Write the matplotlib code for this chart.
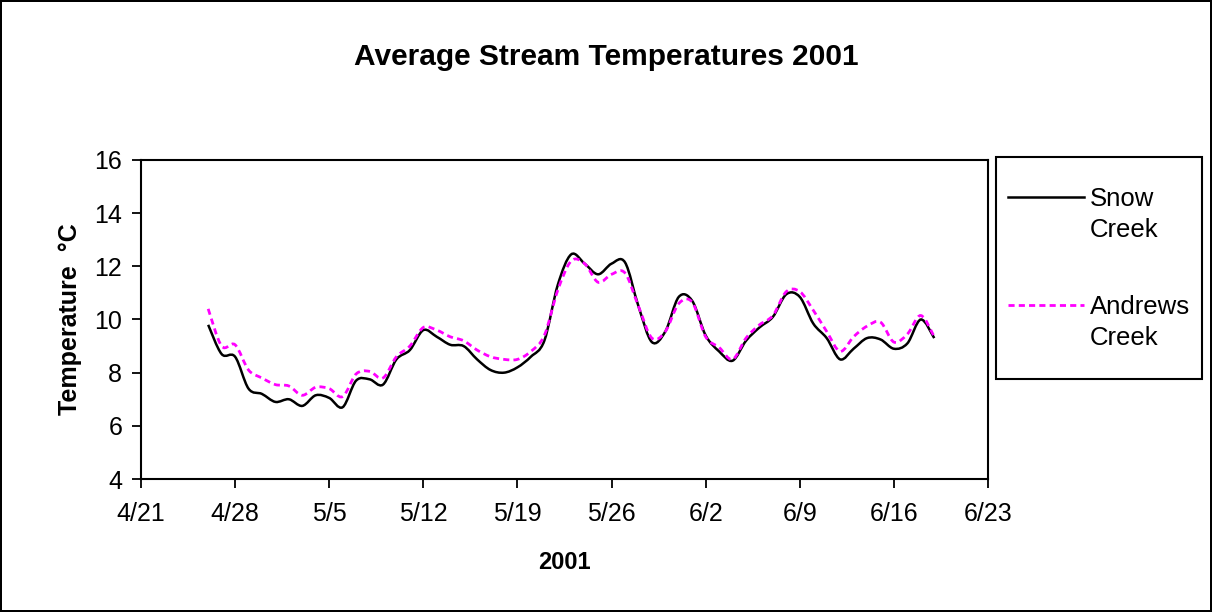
import matplotlib
matplotlib.use("Agg")
import matplotlib.pyplot as plt
import matplotlib.dates as mdates
from matplotlib.path import Path
from matplotlib.patches import PathPatch, Rectangle
from matplotlib.lines import Line2D
import numpy as np
import pandas as pd

plt.rcParams['font.family'] = ['Liberation Sans', 'DejaVu Sans']

# daily average temperatures, 4/26/2001 .. 6/19/2001
start_day = '2001-04-26'
snow_creek = [9.8, 8.7, 8.6, 7.4, 7.2, 6.9, 7.0, 6.75, 7.15, 7.05,
              6.7, 7.7, 7.75, 7.55, 8.5, 8.85, 9.6, 9.35, 9.05, 9.0,
              8.5, 8.1, 8.0, 8.2, 8.6, 9.2, 11.3, 12.45, 12.1, 11.7,
              12.1, 12.15, 10.5, 9.15, 9.55, 10.85, 10.7, 9.4, 8.8, 8.45,
              9.2, 9.7, 10.1, 10.95, 10.85, 9.85, 9.3, 8.5, 8.9, 9.3,
              9.25, 8.9, 9.1, 10.0, 9.3]
andrews_creek = [10.4, 9.0, 9.05, 8.1, 7.8, 7.55, 7.5, 7.15, 7.45, 7.4,
                 7.1, 7.95, 8.05, 7.8, 8.6, 9.0, 9.7, 9.6, 9.35, 9.2,
                 8.85, 8.6, 8.5, 8.5, 8.8, 9.4, 11.1, 12.2, 12.1, 11.4,
                 11.7, 11.75, 10.5, 9.3, 9.55, 10.6, 10.65, 9.35, 8.95, 8.5,
                 9.3, 9.8, 10.15, 11.05, 11.05, 10.35, 9.55, 8.8, 9.35, 9.75,
                 9.9, 9.15, 9.45, 10.15, 9.35]
series_names = ['Snow\nCreek', 'Andrews\nCreek']
y_ticks = [4, 6, 8, 10, 12, 14, 16]

dates = pd.date_range(start_day, periods=len(snow_creek), freq='D')
x_ticks = pd.date_range('2001-04-21', '2001-06-23', freq='7D')
x_labels = [f"{d.month}/{d.day}" for d in x_ticks]


def smooth_path(x, y):
    # Excel-style smoothed line: Catmull-Rom segments as cubic Beziers
    pts = np.column_stack([x, y])
    verts = [pts[0]]
    codes = [Path.MOVETO]
    n = len(pts)
    for i in range(n - 1):
        p0 = pts[i - 1] if i > 0 else pts[i]
        p1 = pts[i]
        p2 = pts[i + 1]
        p3 = pts[i + 2] if i + 2 < n else pts[i + 1]
        c1 = p1 + (p2 - p0) / 6.0
        c2 = p2 - (p3 - p1) / 6.0
        verts += [c1, c2, p2]
        codes += [Path.CURVE4] * 3
    return Path(verts, codes)


W, H = 1212, 612
fig = plt.figure(figsize=(W / 100, H / 100), dpi=100)
fig.patch.set_edgecolor('black')
fig.patch.set_linewidth(1.5)
ax = fig.add_axes([0.1163, 0.2173, 0.6989, 0.5213])

xnum = mdates.date2num(dates)
styles = [dict(color='black', lw=1.8, ls='-'),
          dict(color='#FF00FF', lw=2.0, ls=(0, (2.2, 1.5)))]

for vals, st in zip([snow_creek, andrews_creek], styles):
    ax.add_patch(PathPatch(smooth_path(xnum, vals), fill=False,
                           edgecolor=st['color'], lw=st['lw'],
                           linestyle=st['ls'], capstyle='butt'))

ax.set_xlim(mdates.date2num(x_ticks[0]), mdates.date2num(x_ticks[-1]))
ax.set_ylim(4, 16)
ax.set_xticks(mdates.date2num(x_ticks))
ax.set_xticklabels(x_labels)
ax.set_yticks(y_ticks)
ax.tick_params(axis='both', direction='out', length=6.5, width=1.3,
               labelsize=18, color='black')
ax.tick_params(axis='x', pad=10)
ax.tick_params(axis='y', pad=7)
for s in ax.spines.values():
    s.set_linewidth(1.5)

ax.set_xlabel('2001', fontsize=17, fontweight='bold', labelpad=18)
ax.set_ylabel('Temperature  °C', fontsize=18, fontweight='bold', labelpad=9)
fig.suptitle('Average Stream Temperatures 2001', fontsize=21.5, fontweight='bold',
             x=0.5, y=1 - 57 / H, va='center')

# legend box, drawn by hand so the key line sits on the first text line
fig.add_artist(Rectangle((996 / W, 1 - 379 / H), 206 / W, 222 / H,
                         transform=fig.transFigure, fill=False,
                         edgecolor='black', lw=1.5))
for i, (name, st) in enumerate(zip(series_names, styles)):
    y_line = 1 - (197 + 108 * i) / H
    fig.add_artist(Line2D([1008 / W, 1084 / W], [y_line, y_line],
                          transform=fig.transFigure, color=st['color'],
                          lw=st['lw'], ls=st['ls']))
    fig.text(1090 / W, 1 - (187 + 108 * i) / H, name, fontsize=18.5,
             va='top', ha='left', linespacing=1.38)

fig.savefig('out.png', dpi=100)
